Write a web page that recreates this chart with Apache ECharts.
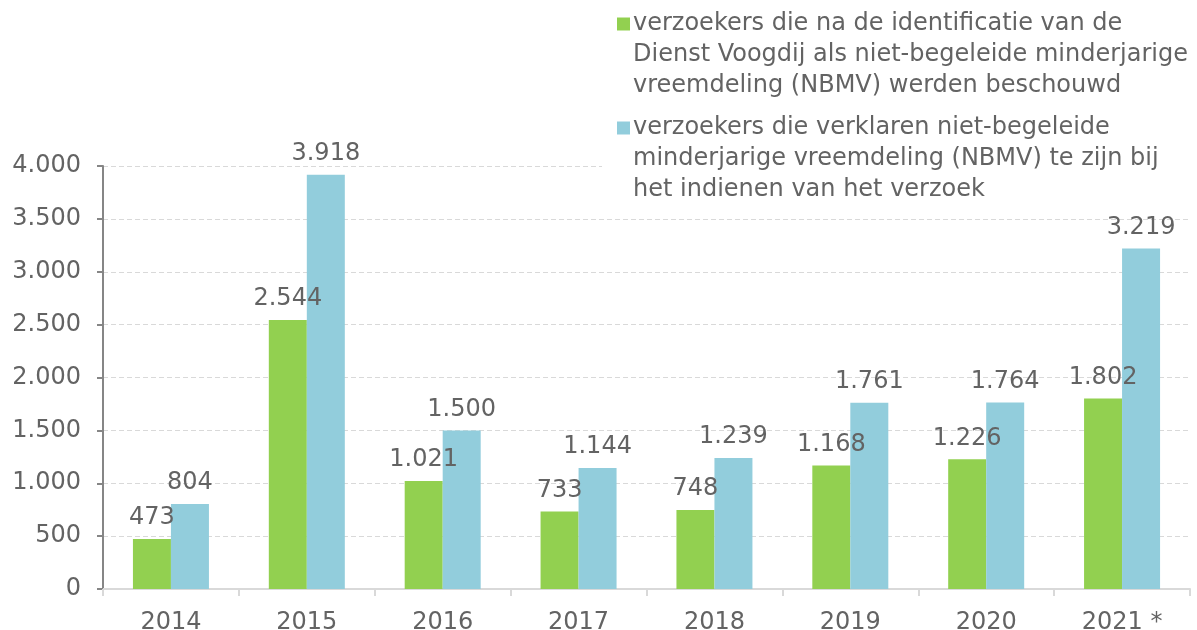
<!DOCTYPE html>
<html>
<head>
<meta charset="utf-8">
<script src="https://cdn.jsdelivr.net/npm/echarts@6/dist/echarts.min.js"></script>
<style>
  html, body { margin: 0; padding: 0; background: #fff; }
  #chart { width: 1197px; height: 630px; }
</style>
</head>
<body>
<div id="chart"></div>
<script>
// data
const years = ['2014', '2015', '2016', '2017', '2018', '2019', '2020', '2021 *'];
const identified = [473, 2544, 1021, 733, 748, 1168, 1226, 1802];
const declared = [804, 3918, 1500, 1144, 1239, 1761, 1764, 3219];

const nameIdentified = 'verzoekers die na de identificatie van de\nDienst Voogdij als niet-begeleide minderjarige\nvreemdeling (NBMV) werden beschouwd';
const nameDeclared = 'verzoekers die verklaren niet-begeleide\nminderjarige vreemdeling (NBMV) te zijn bij\nhet indienen van het verzoek';

const GREEN = '#92D050';
const BLUE = '#92CDDC';
const TEXT = '#636363';
const FONT = 'DejaVu Sans';
const FS = 24;

// formatters
const fmt = (v) => String(v).replace(/\B(?=(\d{3})+(?!\d))/g, '.');

const legendFormatter = (name) => {
  const sq = name === nameIdentified ? 'sqg' : 'sqb';
  return name.split('\n').map((line, i) => {
    const lead = i === 0 ? `{${sq}|}{sp|}` : '{ind|}';
    return `${lead}{t|${line}}`;
  }).join('\n');
};

const chart = echarts.init(document.getElementById('chart'));

const option = {
  animation: false,
  textStyle: { fontFamily: FONT, color: TEXT },
  grid: {
    left: 103,
    right: 7,
    top: 166,
    bottom: 41,
    containLabel: false,
    outerBoundsMode: 'none',
  },
  legend: {
    orient: 'vertical',
    left: 602,
    top: 0,
    padding: [12, 10, 8, 10],
    backgroundColor: '#fff',
    itemGap: 18,
    icon: 'none',
    itemWidth: 0,
    itemHeight: 0,
    selectedMode: false,
    data: [nameIdentified, nameDeclared],
    formatter: legendFormatter,
    textStyle: {
      rich: {
        t: { fontFamily: FONT, fontSize: FS, color: TEXT, lineHeight: 31 },
        sqg: { width: 13, height: 13, backgroundColor: GREEN, lineHeight: 31 },
        sqb: { width: 13, height: 13, backgroundColor: BLUE, lineHeight: 31 },
        sp: { width: 3, lineHeight: 31 },
        ind: { width: 16, lineHeight: 31 },
      },
    },
  },
  xAxis: {
    type: 'category',
    data: years,
    axisLine: { lineStyle: { color: '#d9d9d9', width: 2 } },
    axisTick: { show: true, length: 7, lineStyle: { color: '#d9d9d9', width: 2 } },
    axisLabel: {
      margin: 22,
      fontFamily: FONT,
      fontSize: FS,
      color: TEXT,
    },
  },
  yAxis: {
    type: 'value',
    min: 0,
    max: 4000,
    interval: 500,
    axisLine: { show: true, lineStyle: { color: '#868686', width: 2 } },
    axisTick: { show: true, length: 6, lineStyle: { color: '#868686', width: 2 } },
    splitLine: { lineStyle: { color: '#d9d9d9', type: [5, 3], width: 1 } },
    axisLabel: {
      margin: 22,
      fontFamily: FONT,
      fontSize: FS,
      color: TEXT,
      formatter: fmt,
    },
  },
  series: [
    {
      name: nameIdentified,
      type: 'bar',
      data: identified,
      barWidth: 38,
      barGap: '0%',
      itemStyle: { color: GREEN },
      label: {
        show: true,
        position: 'top',
        distance: 9,
        fontFamily: FONT,
        fontSize: FS,
        color: TEXT,
        formatter: (p) => fmt(p.value),
      },
    },
    {
      name: nameDeclared,
      type: 'bar',
      data: declared,
      barWidth: 38,
      barGap: '0%',
      itemStyle: { color: BLUE },
      label: {
        show: true,
        position: 'top',
        distance: 9,
        fontFamily: FONT,
        fontSize: FS,
        color: TEXT,
        formatter: (p) => fmt(p.value),
      },
    },
  ],
};

chart.setOption(option);
</script>
</body>
</html>
